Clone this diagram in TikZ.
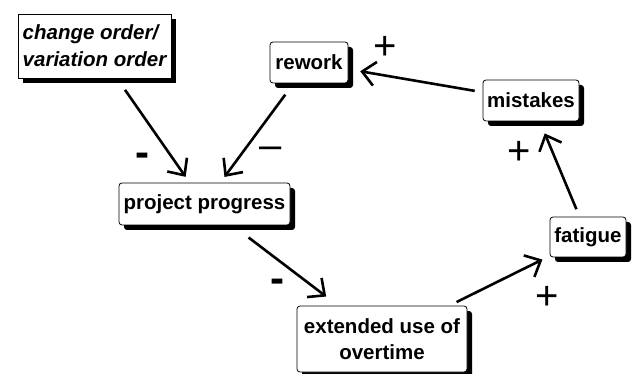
\documentclass[tikz,border=0pt]{standalone}
\usepackage{fontspec}
\setmainfont{Liberation Sans}
\usetikzlibrary{arrows.meta,shadows}

\tikzset{
  box/.style={draw, line width=0.8pt, fill=white, rounded corners=3pt,
              drop shadow={shadow xshift=5pt, shadow yshift=-5pt, fill=black, opacity=1},
              font=\bfseries\fontsize{20.5}{26}\selectfont, inner sep=0pt, align=center},
  link/.style={-{Straight Barb[length=13pt,width=24pt]}, line width=2.6pt},
  plus/.style={font=\fontsize{40}{40}\selectfont, inner sep=0pt},
  minus/.style={font=\bfseries\fontsize{42}{42}\selectfont, inner sep=0pt}
}

\begin{document}
\begin{tikzpicture}[x=1pt, y=-1pt]
                \useasboundingbox (0,0) rectangle (632,374);

                % factors
                \node[box, rounded corners=0pt, minimum width=153pt, minimum height=64pt, align=left,
                      font=\bfseries\itshape\fontsize{20.5}{27}\selectfont]
                      (change) at (94.5,46) {change order/\\variation order};
                \node[box, minimum width=78pt, minimum height=41pt] (rework) at (309,62.5) {rework};
                \node[box, minimum width=96pt, minimum height=41pt] (mistakes) at (531,100.5) {mistakes};
                \node[box, minimum width=171pt, minimum height=42pt] (progress) at (204.5,204) {project progress};
                \node[box, minimum width=170pt, minimum height=66pt] (overtime) at (382,339) {extended use of\\overtime};
                \node[box, minimum width=76pt, minimum height=40pt] (fatigue) at (588,237) {fatigue};

                % causal links
                \draw[link, shorten <=14pt, shorten >=7pt] (change) -- (progress);
                \draw[link, shorten <=14pt, shorten >=7pt] (rework) -- (progress);
                \draw[link, shorten <=8pt, shorten >=12pt] (mistakes) -- (rework);
                \draw[link, shorten <=8pt, shorten >=13pt] (fatigue) -- (mistakes);
                \draw[link, shorten <=20pt, shorten >=15pt] (progress) -- (overtime);
                \draw[link, shorten <=8pt, shorten >=8pt] (overtime) -- (fatigue);

                % polarities
                \node[minus] (sgnA) at (142,160) {-};
                \node[plus] (sgnB) at (271,153) {–};
                \node[plus] (sgnC) at (385,48) {+};
                \node[plus] (sgnD) at (519,153) {+};
                \node[minus] (sgnE) at (277,286) {-};
                \node[plus] (sgnF) at (547,298) {+};
            \end{tikzpicture}
\end{document}
